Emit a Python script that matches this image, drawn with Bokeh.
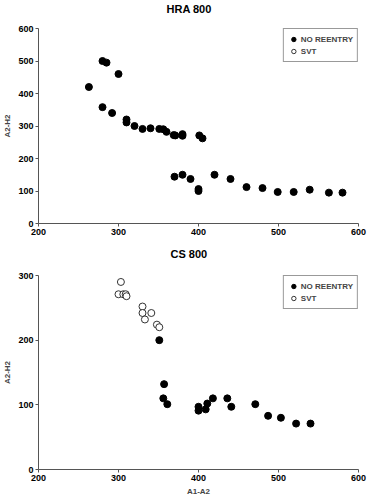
from bokeh.plotting import figure
from bokeh.layouts import column
from bokeh.models import Range1d, FixedTicker, Legend, LegendItem, Title
from bokeh.embed import file_html
from bokeh.resources import INLINE

# ---- data ----
x_ticks = [200, 300, 400, 500, 600]
hra_y_ticks = [0, 100, 200, 300, 400, 500, 600]
cs_y_ticks = [0, 100, 200, 300]

hra_nr_x = [263, 280, 285, 300, 280, 292, 310, 310, 320, 330, 340, 351, 356, 360, 369, 371,
            380, 380, 401, 405, 370, 380, 390, 400, 400, 420, 440, 460, 480, 499, 519, 539, 563, 580]
hra_nr_y = [420, 500, 495, 460, 358, 340, 320, 311, 300, 291, 293, 291, 290, 282, 272, 271,
            275, 270, 271, 262, 144, 150, 137, 106, 100, 150, 137, 112, 109, 97, 97, 104, 95, 95]
hra_svt_x = [float("nan")]   # no SVT points in this panel (legend entry only)
hra_svt_y = [float("nan")]

cs_nr_x = [351, 357, 356, 361, 400, 400, 409, 411, 418, 436, 441, 471, 487, 503, 522, 540]
cs_nr_y = [200, 132, 110, 101, 97, 91, 93, 102, 110, 110, 97, 101, 83, 80, 71, 71]
cs_svt_x = [303, 300, 306, 309, 310, 330, 330, 341, 333, 348, 351]
cs_svt_y = [290, 271, 271, 271, 268, 252, 242, 242, 232, 224, 220]

FONT = "Liberation Sans"


def make(title, tx, ymax, yticks, height, btop, bbottom, gap, xlabel, nr, svt):
    p = figure(width=368, height=height, x_range=Range1d(200, 600), y_range=Range1d(0, ymax),
               output_backend="svg", toolbar_location=None,
               min_border_left=37, min_border_right=10, min_border_top=btop, min_border_bottom=bbottom)
    p.outline_line_color = None
    p.grid.grid_line_color = None
    # real title (outermost), with a blank spacer title between it and the frame
    p.title.text = title
    p.title.align = "left"
    p.title.offset = tx
    p.title.standoff = 0
    p.title.text_font = FONT
    p.title.text_font_size = "11px"
    p.title.text_font_style = "bold"
    p.title.text_color = "black"
    p.add_layout(Title(text=" ", standoff=gap, text_font=FONT, text_font_size="8px"), "above")
    p.xaxis.ticker = FixedTicker(ticks=x_ticks)
    p.yaxis.ticker = FixedTicker(ticks=yticks)
    for ax in (p.xaxis, p.yaxis):
        ax.axis_line_color = "#555555"
        ax.major_tick_line_color = "#555555"
        ax.major_tick_out = 3
        ax.major_tick_in = 0
        ax.minor_tick_line_color = None
        ax.major_label_text_font = FONT
        ax.major_label_text_font_size = "9px"
        ax.major_label_text_font_style = "bold"
        ax.major_label_text_color = "black"
        ax.major_label_standoff = 2
        ax.axis_label_text_font = FONT
        ax.axis_label_text_font_size = "8px"
        ax.axis_label_text_font_style = "bold"
        ax.axis_label_standoff = 3
    p.yaxis.axis_label = "A2-H2"
    if xlabel:
        p.xaxis.axis_label = xlabel
    r1 = p.scatter(nr[0], nr[1], size=7, fill_color="black", line_color="black")
    r2 = p.scatter(svt[0], svt[1], size=7, fill_color="white", line_color="#333333", line_width=1)
    leg = Legend(items=[LegendItem(label="NO REENTRY", renderers=[r1]),
                        LegendItem(label="SVT", renderers=[r2])],
                 location="top_right")
    leg.margin = 0
    leg.padding = 4
    leg.spacing = 0
    leg.glyph_width = 11
    leg.glyph_height = 12
    leg.label_height = 12
    leg.label_standoff = 2
    leg.label_text_font = FONT
    leg.label_text_font_size = "8px"
    leg.label_text_font_style = "bold"
    leg.border_line_color = "#333333"
    leg.border_line_width = 1
    p.add_layout(leg)
    return p


p1 = make("HRA 800", 128, 600, hra_y_ticks, 245, 28, 22, 3, None,
          (hra_nr_x, hra_nr_y), (hra_svt_x, hra_svt_y))
p2 = make("CS 800", 132, 300, cs_y_ticks, 255, 30, 31, 5, "A1-A2",
          (cs_nr_x, cs_nr_y), (cs_svt_x, cs_svt_y))

layout = column(p1, p2, spacing=0)
open("out.html", "w").write(file_html(layout, INLINE))
